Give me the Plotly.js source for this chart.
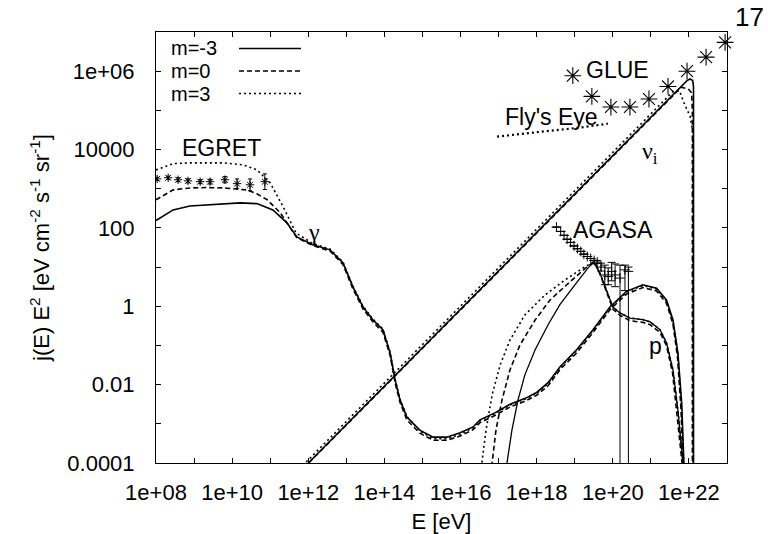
<!DOCTYPE html>
<html><head><meta charset="utf-8">
<script src="https://cdn.plot.ly/plotly-3.0.1.min.js"></script>
<style>html,body{margin:0;padding:0;background:#fff}#plot{width:768px;height:534px}</style>
</head><body><div id="plot"></div>
<script>
// ---- data (log10 E [eV], log10 j(E)E^2) ----
const gammaSolidLogE = [8.00,8.45,8.89,9.34,9.80,10.21,10.65,11.07,11.44,11.70,12.12,12.57,12.91,13.17,13.44,13.70,13.96,14.15,14.28,14.41,14.59,14.93,15.28,15.64,15.99,16.33,16.51,16.90,17.30,17.70,18.00,18.30,18.61,19.05,19.48,19.93,20.36,20.79,21.15,21.41,21.58,21.71,21.81,21.87,21.89];
const gammaSolidLogJ = [2.19,2.46,2.56,2.59,2.62,2.64,2.62,2.46,2.13,1.77,1.57,1.44,1.11,0.50,-0.02,-0.35,-0.60,-1.19,-1.88,-2.39,-2.83,-3.16,-3.34,-3.34,-3.23,-3.08,-2.90,-2.72,-2.50,-2.35,-2.20,-1.95,-1.55,-1.11,-0.60,-0.01,0.38,0.55,0.46,0.16,-0.35,-1.19,-2.47,-3.97,-4.6];
const gammaDashLogE = [8.00,8.45,8.89,9.34,9.76,10.39,10.65,10.92,11.26,11.70,12.12,12.57,12.91,13.17,13.44,13.70,13.96,14.15,14.28,14.41,14.59,14.93,15.28,15.64,15.99,16.33,16.51,16.90,17.30,17.70,18.00,18.30,18.61,19.05,19.48,19.93,20.36,20.79,21.15,21.41,21.58,21.70,21.79,21.85,21.87];
const gammaDashLogJ = [2.72,2.97,3.02,3.03,3.02,2.97,2.87,2.72,2.39,1.75,1.55,1.41,1.07,0.45,-0.07,-0.40,-0.66,-1.25,-1.95,-2.45,-2.90,-3.24,-3.42,-3.42,-3.31,-3.15,-2.97,-2.79,-2.57,-2.42,-2.27,-2.03,-1.62,-1.19,-0.67,-0.08,0.31,0.48,0.39,0.08,-0.45,-1.30,-2.60,-4.00,-4.6];
const gammaDotLogE = [8.00,8.45,8.89,9.76,10.29,10.65,11.00,11.34,11.68,12.12,12.57,12.91,13.17,13.44,13.70,13.96,14.15,14.28,14.41,14.59,14.93,15.28,15.64,15.99,16.33,16.51,16.90,17.30,17.70,18.00,18.30,18.61,19.05,19.48,19.93,20.36,20.79,21.15,21.41,21.58,21.71,21.80,21.86,21.88];
const gammaDotLogJ = [3.48,3.64,3.66,3.66,3.61,3.48,3.15,2.54,1.87,1.60,1.46,1.13,0.52,0.00,-0.33,-0.58,-1.17,-1.86,-2.37,-2.81,-3.18,-3.38,-3.38,-3.27,-3.10,-2.92,-2.74,-2.52,-2.37,-2.22,-1.98,-1.57,-1.13,-0.62,-0.03,0.36,0.53,0.44,0.13,-0.38,-1.22,-2.50,-4.00,-4.6];

const protonSolidLogE = [17.17,17.22,17.35,17.51,17.69,17.96,18.30,18.61,19.01,19.35,19.51,19.66,19.85,20.00,20.19,20.45,20.79,20.98,21.24,21.41,21.58,21.71,21.84,21.87];
const protonSolidLogJ = [-4.5,-4.0,-3.16,-2.39,-1.75,-1.11,-0.47,0.04,0.55,0.98,1.13,0.85,0.37,-0.02,-0.17,-0.30,-0.34,-0.40,-0.60,-0.93,-1.62,-2.65,-3.97,-4.6];
const protonDashLogE = [16.80,16.83,16.93,17.09,17.30,17.56,17.96,18.35,18.87,19.35,19.51,19.66,19.85,20.00,20.19,20.45,20.79,20.98,21.24,21.41,21.57,21.69,21.82,21.85];
const protonDashLogJ = [-4.5,-4.0,-3.16,-2.39,-1.62,-0.99,-0.35,0.16,0.62,1.03,1.13,0.83,0.33,-0.07,-0.23,-0.37,-0.41,-0.47,-0.67,-1.00,-1.70,-2.75,-4.00,-4.6];
const protonDotLogE = [16.52,16.56,16.67,16.83,17.04,17.30,17.69,18.22,18.74,19.27,19.51,19.66,19.85,20.00,20.19,20.45,20.79,20.98,21.24,21.41,21.58,21.71,21.84,21.87];
const protonDotLogJ = [-4.5,-4.0,-3.16,-2.26,-1.50,-0.86,-0.22,0.29,0.67,1.01,1.13,0.85,0.37,-0.02,-0.17,-0.30,-0.34,-0.40,-0.60,-0.93,-1.62,-2.65,-3.97,-4.6];

const nuSolidLogE = [11.95,12.00,21.95,22.03,22.10,22.12,22.12];
const nuSolidLogJ = [-4.6,-4.0,5.76,5.80,5.76,5.60,-5.0];
const nuDashLogE = [11.96,12.01,21.80,21.98,22.07,22.09,22.09];
const nuDashLogJ = [-4.6,-4.0,5.59,5.55,5.45,5.00,-5.0];
const nuDotLogE = [11.87,11.92,21.58,21.75,21.88,22.03,22.10,22.11];
const nuDotLogJ = [-4.6,-4.0,5.48,5.50,5.17,4.85,4.45,-5.0];

const flysEyeLogE = [16.96,17.56,18.35,19.14,19.87];
const flysEyeLogJ = [4.33,4.40,4.48,4.56,4.66];

const egretLogE = [8.03,8.32,8.58,8.84,9.16,9.42,9.81,10.13,10.47,10.86];
const egretLogJ = [3.25,3.28,3.23,3.20,3.18,3.18,3.23,3.13,3.10,3.18];
const egretLogErr = [0.04,0.04,0.05,0.05,0.05,0.06,0.08,0.12,0.15,0.20];

const agasaLogE = [18.52,18.63,18.72,18.80,18.89,18.98,19.07,19.16,19.24,19.33,19.42,19.51,19.59,19.69,19.79,19.88,19.97,20.06,20.19,20.32,20.41];
const agasaLogJ = [2.02,1.91,1.81,1.71,1.63,1.54,1.47,1.40,1.33,1.27,1.22,1.17,1.13,1.00,0.80,0.76,0.89,0.80,0.72,0.93,0.89];
const agasaLogHi = [2.02,1.91,1.81,1.71,1.63,1.54,1.47,1.40,1.33,1.27,1.22,1.17,1.17,1.10,1.05,0.98,1.12,1.08,1.05,1.05,1.00];
const agasaLogLo = [2.02,1.91,1.81,1.71,1.63,1.54,1.47,1.40,1.33,1.27,1.22,1.17,1.09,0.90,0.55,0.55,0.65,0.50,-6,0.40,-6];

const glueLogE = [18.95,19.45,19.95,20.45,20.95,21.45,21.95,22.45,22.95];
const glueLogJ = [5.885,5.356,5.085,5.085,5.29,5.61,6.00,6.36,6.735];

const xLabelExp = [8,10,12,14,16,18,20,22];
const xLabelText = ['1e+08','1e+10','1e+12','1e+14','1e+16','1e+18','1e+20','1e+22'];
const xMinorExp = [9,11,13,15,17,19,21,23];
const yLabelExp = [-4,-2,0,2,4,6];
const yLabelText = ['0.0001','0.01','1','100','10000','1e+06'];
const yMinorExp = [-3,-1,1,3,5,7];
const legendNames = ['m=-3','m=0','m=3'];

// ---- build ----
const P = v => Math.pow(10, v);
const FONT = 'Liberation Sans, Arial, Helvetica, sans-serif';
const SERIF = 'Liberation Serif, DejaVu Serif, serif';
const DASH = '5px,3px', DOT = '2px,3px';
function curve(le, lj, dash, w) {
  return {x: le.map(P), y: lj.map(P), mode: 'lines', type: 'scatter',
    line: {color: '#000', width: w || 1.6, dash: dash}, showlegend: false, hoverinfo: 'skip'};
}
const traces = [
  curve(gammaSolidLogE, gammaSolidLogJ, 'solid'),
  curve(gammaDashLogE, gammaDashLogJ, DASH),
  curve(gammaDotLogE, gammaDotLogJ, DOT),
  curve(protonSolidLogE, protonSolidLogJ, 'solid', 1.3),
  curve(protonDashLogE, protonDashLogJ, DASH),
  curve(protonDotLogE, protonDotLogJ, DOT),
  curve(nuSolidLogE, nuSolidLogJ, 'solid'),
  curve(nuDashLogE, nuDashLogJ, DASH),
  curve(nuDotLogE, nuDotLogJ, DOT),
  curve(flysEyeLogE, flysEyeLogJ, DOT, 2.2),
  {x: egretLogE.map(P), y: egretLogJ.map(P), mode: 'markers', type: 'scatter', showlegend: false, hoverinfo: 'skip',
    marker: {symbol: 'asterisk-open', size: 7, color: '#000', line: {color: '#000', width: 1}},
    error_y: {type: 'data', symmetric: false,
      array: egretLogJ.map((v, i) => P(v + egretLogErr[i]) - P(v)),
      arrayminus: egretLogJ.map((v, i) => P(v) - P(v - egretLogErr[i])),
      color: '#000', thickness: 1, width: 2}},
  {x: agasaLogE.map(P), y: agasaLogJ.map(P), mode: 'markers', type: 'scatter', showlegend: false, hoverinfo: 'skip',
    marker: {symbol: 'cross-thin-open', size: 7, color: '#000', line: {color: '#000', width: 1}},
    error_y: {type: 'data', symmetric: false,
      array: agasaLogJ.map((v, i) => P(agasaLogHi[i]) - P(v)),
      arrayminus: agasaLogJ.map((v, i) => P(v) - P(agasaLogLo[i])),
      color: '#000', thickness: 1, width: 4}},
  {x: glueLogE.map(P), y: glueLogJ.map(P), mode: 'markers', type: 'scatter', showlegend: false, hoverinfo: 'skip', cliponaxis: false,
    marker: {symbol: 'asterisk-open', size: 14, color: '#000', line: {color: '#000', width: 1.1}}}
];

const PL = 156, PR = 727, PT = 32, PB = 463;
const px = v => (v - PL) / (PR - PL), py = v => (PB - v) / (PB - PT);
function label(text, x, y, size, fam) {
  return {text: text, xref: 'paper', yref: 'paper', x: px(x), y: py(y), xanchor: 'center', yanchor: 'middle',
    showarrow: false, font: {family: fam || FONT, size: size || 23, color: '#000'}};
}
const legendDash = ['solid', DASH, DOT], legendY = [48.5, 71, 93.5];
const annotations = [
  label('EGRET', 221, 148), label('γ', 314, 232, 24, SERIF), label('AGASA', 613, 230), label('GLUE', 617, 70),
  label("Fly's Eye", 551, 117), label('ν<sub>i</sub>', 650, 153, 24, SERIF), label('p', 655, 346), label('17', 749, 17, 26)
];
const shapes = [];
legendNames.forEach((t, i) => {
  annotations.push({text: t, xref: 'paper', yref: 'paper', x: px(169), y: py(legendY[i]), xanchor: 'left', yanchor: 'middle',
    showarrow: false, font: {family: FONT, size: 20, color: '#000'}});
  shapes.push({type: 'line', xref: 'paper', yref: 'paper', x0: px(239), x1: px(301), y0: py(legendY[i]), y1: py(legendY[i]),
    line: {color: '#000', width: 1.6, dash: legendDash[i]}});
});

const axisBase = {type: 'log', showline: true, linecolor: '#000', linewidth: 1, mirror: 'ticks', ticks: 'inside',
  ticklen: 5, tickcolor: '#000', tickwidth: 1, showgrid: false, zeroline: false, tickmode: 'array',
  tickfont: {family: FONT, size: 22, color: '#000'}};
const layout = {
  width: 768, height: 534, margin: {l: PL, r: 768 - PR, t: PT, b: 534 - PB},
  paper_bgcolor: '#fff', plot_bgcolor: '#fff', showlegend: false,
  font: {family: FONT, color: '#000'},
  xaxis: Object.assign({}, axisBase, {range: [8, 23], tickvals: xLabelExp.map(P), ticktext: xLabelText,
    minor: {tickmode: 'array', tickvals: xMinorExp.map(P), ticks: 'inside', ticklen: 5, tickcolor: '#000', tickwidth: 1, showgrid: false},
    ticklabelstandoff: 10, title: {text: 'E [eV]', font: {family: FONT, size: 22}, standoff: 10}}),
  yaxis: Object.assign({}, axisBase, {range: [-4, 7], tickvals: yLabelExp.map(P), ticktext: yLabelText,
    minor: {tickmode: 'array', tickvals: yMinorExp.map(P), ticks: 'inside', ticklen: 5, tickcolor: '#000', tickwidth: 1, showgrid: false},
    ticklabelstandoff: 16, title: {text: 'j(E) E<sup>2</sup> [eV cm<sup>-2</sup> s<sup>-1</sup> sr<sup>-1</sup>]', font: {family: FONT, size: 22}, standoff: 11}}),
  annotations: annotations, shapes: shapes
};
Plotly.newPlot('plot', traces, layout, {staticPlot: true, displayModeBar: false});
</script></body></html>
